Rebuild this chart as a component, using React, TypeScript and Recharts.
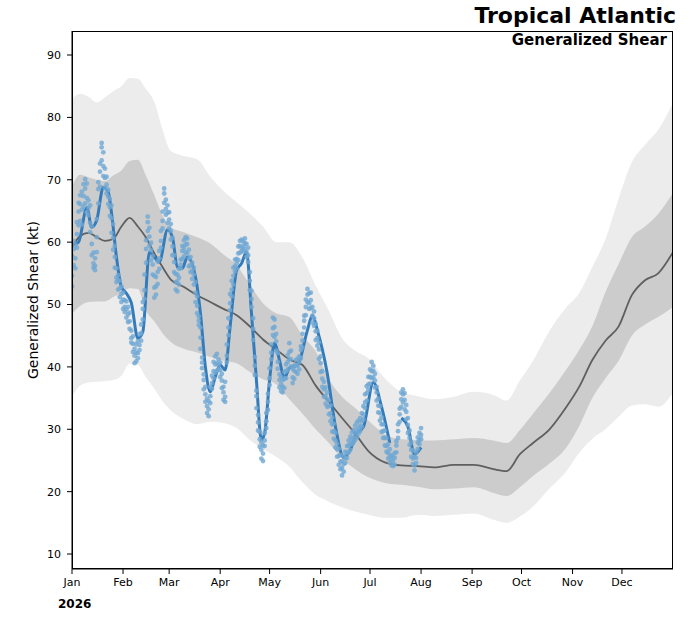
import React from 'react';
import {
  ComposedChart,
  Area,
  Line,
  Scatter,
  XAxis,
  YAxis,
} from 'recharts';

// day-of-year positions for the climatology bands
const climDays = [
  0, 5, 10, 15, 20, 25, 30, 35, 40, 45, 50, 55, 60, 68, 76, 84, 92, 100, 108, 116, 124, 132, 140, 148,
  156, 164, 172, 180, 190, 200, 210, 220, 232, 244, 256, 264, 272, 280, 290, 300, 308, 316, 324, 332,
  340, 348, 356, 365,
];
const p95 = [
  83, 83.8, 83.3, 82.4, 83.2, 84.2, 85, 86.3, 86.2, 84.5, 82.5, 78, 74.6, 73.8, 73.3, 70.5, 68.2, 66.4,
  64.6, 62.5, 60, 60, 57.5, 53, 49, 44.6, 42.6, 41.4, 38.2, 36, 35.3, 34.8, 35.2, 36, 35.5, 34.6, 37.8,
  41, 45.8, 49.5, 51.8, 56, 60.5, 67, 72.8, 75.6, 78, 82.3,
];
const p75 = [
  69, 70.8, 70.4, 70, 69.8, 70.7, 71.5, 73, 73.2, 70.6, 67.5, 64.3, 62.4, 61.6, 60.8, 59.8, 58, 56.3,
  53.2, 50.2, 48.6, 48, 45, 42.5, 38, 35.2, 33.4, 31.4, 29.2, 28.4, 28.3, 28.2, 28.4, 28.6, 28.2, 27.8,
  29.9, 32.5, 35.8, 39.5, 42.7, 46.5, 52, 56.5, 60.8, 62.5, 64.5, 67.9,
];
const climMean = [
  59.3, 61, 61.5, 60.8, 60.2, 60.5, 62.5, 63.9, 62.5, 60.7, 58.2, 56, 54, 52.8, 51.5, 50.4, 49.3, 48.3,
  46.5, 44.4, 42.8, 41.2, 40.3, 37, 34.4, 31.8, 29.3, 26.5, 24.7, 24.2, 24.1, 23.9, 24.3, 24.3, 23.6,
  23.3, 26, 27.8, 30, 33.5, 36.8, 41.1, 44.2, 46.5, 51.5, 53.9, 55, 58.4,
];
const p25 = [
  48.5, 49.8, 50.4, 50.5, 50.5, 51.2, 51.8, 52.6, 52.5, 49, 47.3, 45.4, 44, 42.9, 42.3, 41.6, 41, 40.6,
  39.2, 38, 37.2, 34.8, 32.5, 30, 27.8, 25.3, 23.6, 22.3, 21.4, 21.1, 20.8, 20.4, 20.5, 20.7, 19.8,
  19.3, 20.7, 22.5, 24.5, 27, 30.5, 35, 38.2, 41, 45, 46.8, 48, 49.6,
];
const p05 = [
  35.2, 37, 37.5, 37.6, 37.7, 37.9, 38.6, 40.5, 40.3, 38.3, 36.5, 34.5, 33, 31.6, 30.8, 31.2, 31, 30.2,
  28.3, 26.8, 25.6, 24, 21.5, 19.5, 18.4, 17.5, 16.8, 16.3, 15.8, 15.8, 16.3, 16.1, 16.3, 16.5, 15.5,
  15, 16, 17.6, 20.5, 23.2, 26.2, 28.5, 30, 32, 33.8, 34, 33.6, 35.8,
];

// smoothed 2026 shear, [day, kt]; broken after mid-July
const smoothA = [
  [0, 59.5], [4, 60], [9, 65.5], [12, 62.4], [15, 63.5], [19, 68.8], [22, 68], [24, 64.7], [27, 57.6],
  [30, 52.8], [33, 51.8], [36, 50.3], [40, 44.6], [43, 45.6], [47, 58.4], [50, 57.6], [53, 56.8],
  [58, 62], [61, 60.8], [64, 56], [67, 55.8], [70, 57.6], [75, 54.4], [78, 48.6], [81, 40], [84, 36],
  [87, 38.4], [90, 40.3], [93, 39.5], [96, 46.4], [100, 55.5], [103, 56.6], [106, 58.4], [109, 48.6],
  [112, 37.9], [115, 28.3], [117, 29.4], [120, 37.9], [123, 43.8], [126, 41.1], [129, 38.2],
  [132, 39.8], [137, 40.3], [143, 45.9], [146, 48.3], [149, 45.9], [155, 39], [160, 30.4], [165, 25.5],
  [169, 26.7], [173, 29.4], [177, 30.4], [183, 37.5], [188, 33.6], [193, 27.8],
];
const smoothB = [[200, 31.8], [204, 30.4], [208, 26], [212, 27.1]];

// individual 2026 observations: [day, v1, v2, v3]
const obs = [
  [0, 57.8, 54.6, 52.9], [1, 58.9, 56.3, 60.2], [2, 59.6, 57.4, 55.8], [3, 61.3, 63.2, 59.1],
  [4, 62.7, 64.9, 66.3], [5, 66.1, 63.4, 67.5], [6, 65.2, 68.1, 62.8], [7, 67.4, 69.3, 65.7],
  [8, 68.6, 66.2, 70.1], [9, 69.4, 64.8, 67.1], [10, 66.7, 64.3, 65.5], [11, 65.9, 63.1, 61.6],
  [12, 62.5, 59.7, 57.9], [13, 58.3, 56.6, 55.9], [14, 56.2, 57.4, 55.5], [15, 60.8, 63.7, 58.4],
  [16, 66.2, 68.5, 69.6], [17, 68.9, 71.3, 72.6], [18, 73.1, 75.2, 75.9], [19, 74.4, 72.2, 70.6],
  [20, 70.3, 71.8, 68.7], [21, 69.2, 67.8, 70.5], [22, 67.3, 66.1, 68.4], [23, 65.6, 64.2, 66.9],
  [24, 63.8, 61.5, 65.9], [25, 60.7, 62.9, 58.8], [26, 57.6, 55.9, 59.4], [27, 55.8, 54.3, 53.6],
  [28, 53.9, 52.4, 54.7], [29, 52.6, 51.2, 53.8], [30, 51.7, 52.9, 50.4], [31, 50.8, 49.3, 51.9],
  [32, 49.6, 50.7, 48.8], [33, 49.2, 47.9, 50.5], [34, 48.4, 47.2, 49.6], [35, 47.3, 46.1, 48.7],
  [36, 45.8, 44.6, 43.9], [37, 43.7, 42.4, 44.9], [38, 41.8, 40.6, 42.9], [39, 40.9, 42.3, 43.6],
  [40, 42.2, 44.1, 41.4], [41, 43.5, 45.2, 42.7], [42, 45.4, 46.8, 44.2], [43, 47.6, 49.3, 50.4],
  [44, 52.3, 54.8, 50.9], [45, 56.7, 58.9, 60.3], [46, 61.8, 63.2, 64.1], [47, 60.9, 59.4, 62.3],
  [48, 58.7, 57.1, 59.9], [49, 56.4, 54.8, 57.8], [50, 54.6, 52.7, 51.1], [51, 52.9, 51.6, 54.4],
  [52, 55.2, 56.9, 53.3], [53, 57.4, 58.6, 55.7], [54, 60.2, 61.8, 59.1], [55, 63.4, 64.9, 62.2],
  [56, 66.3, 67.8, 68.6], [57, 66.8, 65.3, 64.4], [58, 64.7, 63.1, 65.9], [59, 63.6, 62.2, 64.8],
  [60, 61.8, 60.4, 62.9], [61, 59.3, 60.7, 57.9], [62, 56.8, 55.2, 57.9], [63, 54.9, 53.6, 52.4],
  [64, 53.7, 52.1, 54.8], [65, 54.3, 55.7, 53.2], [66, 55.8, 57.2, 56.4], [67, 57.3, 58.6, 59.4],
  [68, 59.1, 60.3, 57.7], [69, 59.6, 60.8, 58.4], [70, 58.2, 59.7, 60.6], [71, 57.4, 58.8, 56.1],
  [72, 56.3, 57.6, 55.2], [73, 55.4, 56.7, 54.1], [74, 54.8, 53.2, 55.9], [75, 53.6, 51.9, 50.4],
  [76, 51.3, 49.8, 48.6], [77, 48.1, 46.7, 47.4], [78, 44.7, 42.9, 46.3], [79, 41.5, 39.8, 40.7],
  [80, 37.9, 36.4, 38.8], [81, 35.6, 34.4, 36.8], [82, 33.7, 32.6, 34.9], [83, 33.2, 34.5, 32.1],
  [84, 35.3, 36.8, 34.2], [85, 37.4, 38.6, 36.5], [86, 39.3, 40.8, 38.2], [87, 40.4, 41.7, 39.1],
  [88, 40.6, 42.1, 39.4], [89, 41.2, 39.6, 40.3], [90, 40.7, 38.4, 39.5], [91, 37.8, 36.6, 38.9],
  [92, 35.9, 34.7, 36.8], [93, 35.2, 37.6, 34.4], [94, 41.8, 43.6, 40.7], [95, 46.3, 47.8, 45.1],
  [96, 50.2, 51.7, 49.1], [97, 52.4, 53.8, 51.3], [98, 54.6, 55.9, 53.2], [99, 56.1, 55.3, 57.2],
  [100, 57.3, 55.8, 56.6], [101, 58.2, 57.1, 59.3], [102, 59.4, 60.2, 58.3], [103, 59.1, 60.4, 58.6],
  [104, 60.1, 59.3, 58.5], [105, 59.8, 60.6, 58.9], [106, 59.7, 58.4, 57.6], [107, 57.9, 56.8, 59.1],
  [108, 55.2, 53.8, 52.3], [109, 50.9, 49.6, 52.2], [110, 46.1, 44.3, 47.8], [111, 40.2, 38.7, 41.6],
  [112, 35.3, 33.4, 36.2], [113, 31.1, 29.8, 32.3], [114, 28.4, 27.2, 29.6], [115, 26.7, 25.3, 27.9],
  [116, 26.1, 24.9, 27.4], [117, 28.2, 29.4, 27.3], [118, 31.3, 30.2, 32.6], [119, 34.4, 35.7, 33.1],
  [120, 38.2, 39.8, 37.1], [121, 42.3, 43.6, 41.2], [122, 46.2, 47.9, 45.1], [123, 46.4, 47.6, 44.8],
  [124, 44.1, 45.3, 42.6], [125, 40.8, 39.7, 42.2], [126, 37.9, 36.7, 38.8], [127, 37.2, 38.4, 36.1],
  [128, 36.8, 35.9, 37.9], [129, 38.1, 36.6, 39.2], [130, 39.3, 40.4, 38.2], [131, 40.8, 39.6, 41.9],
  [132, 42.4, 43.8, 41.3], [133, 41.2, 42.6, 40.1], [134, 39.7, 38.3, 37.4], [135, 39.4, 40.2, 38.1],
  [136, 40.3, 41.1, 39.2], [137, 40.2, 38.9, 41.3], [138, 39.6, 40.8, 41.7], [139, 41.4, 42.7, 43.3],
  [140, 44.2, 45.3, 43.1], [141, 46.3, 47.4, 48.2], [142, 48.3, 49.6, 50.8], [143, 50.4, 51.6, 52.5],
  [144, 51.8, 50.2, 49.3], [145, 50.7, 49.4, 51.9], [146, 49.6, 48.2, 47.1], [147, 47.8, 46.6, 48.9],
  [148, 45.7, 46.9, 44.3], [149, 44.6, 43.4, 45.8], [150, 42.8, 41.3, 43.9], [151, 40.6, 39.2, 41.7],
  [152, 38.1, 36.8, 39.3], [153, 36.4, 37.6, 35.2], [154, 35.3, 34.1, 36.7], [155, 34.8, 33.6, 35.9],
  [156, 33.7, 32.4, 34.6], [157, 32.6, 31.3, 33.8], [158, 30.8, 29.6, 31.9], [159, 29.7, 28.5, 30.9],
  [160, 28.2, 27.1, 29.4], [161, 26.8, 25.6, 27.7], [162, 25.7, 24.3, 26.9], [163, 24.8, 23.6, 25.9],
  [164, 23.8, 22.6, 24.9], [165, 24.4, 23.2, 25.7], [166, 25.3, 26.4, 24.6], [167, 26.2, 27.3, 25.4],
  [168, 27.4, 28.2, 26.3], [169, 27.6, 28.8, 26.7], [170, 28.3, 29.5, 27.6], [171, 28.7, 29.9, 27.9],
  [172, 29.4, 30.6, 28.3], [173, 29.8, 31.1, 28.7], [174, 30.2, 31.4, 29.3], [175, 30.6, 31.8, 29.7],
  [176, 31.3, 32.6, 30.4], [177, 32.4, 33.7, 31.6], [178, 34.3, 35.6, 33.4], [179, 35.8, 36.9, 34.6],
  [180, 37.2, 38.4, 36.3], [181, 38.4, 39.6, 37.3], [182, 39.3, 40.8, 38.2], [183, 39.4, 40.2, 38.3],
  [184, 37.8, 36.7, 38.9], [185, 35.9, 34.6, 36.8], [186, 33.8, 32.7, 34.9], [187, 32.6, 31.4, 33.7],
  [188, 30.8, 29.6, 31.9], [189, 29.7, 28.6, 30.8], [190, 28.6, 27.4, 29.8], [191, 27.3, 26.4, 28.6],
  [192, 26.2, 25.3, 27.6], [193, 25.6, 24.7, 26.8], [194, 25.1, 24.2, 25.9], [195, 24.8, 25.6, 24.1],
  [196, 24.3, 25.4, 26.2], [197, 26.3, 27.4, 28.1], [198, 28.6, 29.7, 30.8], [199, 31.2, 32.4, 33.3],
  [200, 33.6, 34.8, 35.9], [201, 34.3, 35.6, 36.4], [202, 34.7, 33.2, 35.8], [203, 32.8, 31.6, 33.9],
  [204, 30.7, 29.4, 31.8], [205, 28.6, 27.5, 29.8], [206, 26.7, 25.6, 27.9], [207, 25.3, 24.4, 26.6],
  [208, 24.2, 23.4, 25.6], [209, 25.4, 26.3, 24.6], [210, 26.8, 27.9, 28.7], [211, 28.3, 29.4, 27.6],
  [212, 29.1, 30.2, 28.4],
];

const monthDays = [0, 31, 59, 90, 120, 151, 181, 212, 243, 273, 304, 334];
const monthLabels = ['Jan', 'Feb', 'Mar', 'Apr', 'May', 'Jun', 'Jul', 'Aug', 'Sep', 'Oct', 'Nov', 'Dec'];
const yTicks = [10, 20, 30, 40, 50, 60, 70, 80, 90];

const FONT = '"DejaVu Sans", sans-serif';

const climData = climDays.map((day, i) => ({
  day,
  outer: [p05[i], p95[i]],
  inner: [p25[i], p75[i]],
  mean: climMean[i],
}));
const lineA = smoothA.map(([day, v]) => ({ day, v }));
const lineB = smoothB.map(([day, v]) => ({ day, v }));
const dots = obs.flatMap(([day, ...vals]) => vals.map((v) => ({ day, v })));

const monthTick = (d: number) => monthLabels[monthDays.indexOf(d)] ?? '';

const Dot = (props: any) => (
  <circle cx={props.cx} cy={props.cy} r={2.4} fill="#6fa7d3" fillOpacity={0.8} />
);

export default function App() {
  const tickStyle = { fontSize: 11, fontFamily: FONT, fill: '#000' };
  return (
    <div style={{ position: 'absolute', left: 0, top: 0, width: 690, height: 618, background: '#fff' }}>
      <ComposedChart
        width={690}
        height={618}
        data={climData}
        margin={{ top: 31, right: 17, bottom: 0, left: 0 }}
      >
        <XAxis
          dataKey="day"
          type="number"
          domain={[0, 365]}
          ticks={monthDays}
          tickFormatter={monthTick}
          height={49}
          tick={tickStyle}
          tickSize={5}
          tickMargin={4}
          stroke="#000"
          allowDataOverflow
        />
        <YAxis
          type="number"
          domain={[7.6, 93.85]}
          ticks={yTicks}
          width={72}
          tick={tickStyle}
          tickSize={5}
          tickMargin={6}
          stroke="#000"
          allowDataOverflow
        />
        <Area
          type="monotone"
          dataKey="outer"
          fill="#ececec"
          fillOpacity={1}
          stroke="none"
          isAnimationActive={false}
        />
        <Area
          type="monotone"
          dataKey="inner"
          fill="#cccccc"
          fillOpacity={1}
          stroke="none"
          isAnimationActive={false}
        />
        <Line
          type="monotone"
          dataKey="mean"
          stroke="#5f5f5f"
          strokeWidth={1.8}
          dot={false}
          isAnimationActive={false}
        />
        <Scatter data={dots} dataKey="v" shape={Dot} isAnimationActive={false} />
        <Line
          data={lineA}
          type="monotone"
          dataKey="v"
          stroke="#337bba"
          strokeWidth={3}
          dot={false}
          isAnimationActive={false}
        />
        <Line
          data={lineB}
          type="monotone"
          dataKey="v"
          stroke="#337bba"
          strokeWidth={3}
          dot={false}
          isAnimationActive={false}
        />
      </ComposedChart>

      {/* axes frame */}
      <div
        style={{
          position: 'absolute',
          left: 72,
          top: 31,
          width: 601,
          height: 538,
          boxSizing: 'border-box',
          border: '1px solid #000',
          pointerEvents: 'none',
        }}
      />
      <div
        style={{
          position: 'absolute',
          right: 14,
          top: 3,
          fontFamily: FONT,
          fontWeight: 'bold',
          fontSize: 22,
          lineHeight: '26px',
        }}
      >
        Tropical Atlantic
      </div>
      <div
        style={{
          position: 'absolute',
          right: 23,
          top: 31,
          fontFamily: FONT,
          fontWeight: 'bold',
          fontSize: 15,
          lineHeight: '18px',
        }}
      >
        Generalized Shear
      </div>
      <div
        style={{
          position: 'absolute',
          left: 33,
          top: 300,
          transform: 'translate(-50%, -50%) rotate(-90deg)',
          whiteSpace: 'nowrap',
          fontFamily: FONT,
          fontSize: 14,
        }}
      >
        Generalized Shear (kt)
      </div>
      <div
        style={{
          position: 'absolute',
          left: 58,
          top: 597,
          fontFamily: FONT,
          fontWeight: 'bold',
          fontSize: 12,
        }}
      >
        2026
      </div>
    </div>
  );
}
